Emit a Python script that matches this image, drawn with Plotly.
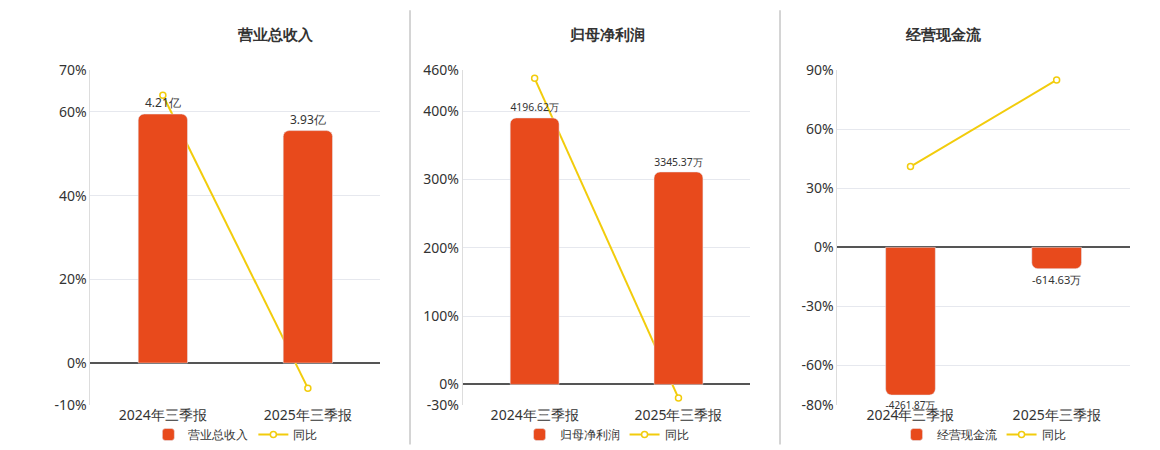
import plotly.graph_objects as go

periods = ["2024年三季报", "2025年三季报"]
titles = ["营业总收入", "归母净利润", "经营现金流"]
bar_vals = [[4.21, 3.93], [4196.62, 3345.37], [-4261.87, -614.63]]
bar_text = [["4.21亿", "3.93亿"], ["4196.62万", "3345.37万"], ["-4261.87万", "-614.63万"]]
yoy = [[64.0, -6.0], [448.0, -20.0], [41.0, 85.0]]
pct_ranges = [[-10, 70], [-30, 460], [-80, 90]]
pct_ticks = [[-10, 0, 20, 40, 60, 70], [-30, 0, 100, 200, 300, 400, 460], [-80, -60, -30, 0, 30, 60, 90]]
# bar value per percent unit (aligns bar zero with 0%)
bar_scale = [4.21 / 59.5, 4196.62 / 390, 4261.87 / 75]

BAR = "#E84A1C"
LINE = "#F2CC0C"
xdom = [[0.071, 0.321], [0.392, 0.640], [0.715, 0.967]]
ydom = [0.118, 0.862]

fig = go.Figure()
layout = dict(
    width=1160, height=450, margin=dict(l=0, r=0, t=0, b=0, autoexpand=False),
    plot_bgcolor="white", paper_bgcolor="white",
    font=dict(family="Noto Sans, DejaVu Sans", size=13, color="#333"),
    barmode="overlay",
)
shapes, annotations = [], []
for i in range(3):
    n = i * 2 + 1
    xa = "x" if i == 0 else f"x{i+1}"
    ypa = "y" if n == 1 else f"y{n}"
    yba = f"y{n+1}"
    lg = "legend" if i == 0 else f"legend{i+1}"
    fig.add_trace(go.Bar(
        x=periods, y=bar_vals[i], xaxis=xa, yaxis=yba, name=titles[i],
        marker=dict(color=BAR, cornerradius=6), width=0.34,
        text=bar_text[i], textposition="outside", cliponaxis=False,
        textfont=dict(size=12, color="#333"), legend=lg,
    ))
    fig.add_trace(go.Scatter(
        x=periods, y=yoy[i], xaxis=xa, yaxis=ypa, name="同比", mode="lines+markers",
        line=dict(color=LINE, width=2),
        marker=dict(symbol="circle", size=6, color="white", line=dict(color=LINE, width=1.5)),
        cliponaxis=False, legend=lg,
    ))
    lo, hi = pct_ranges[i]
    layout["xaxis" if i == 0 else f"xaxis{i+1}"] = dict(
        domain=xdom[i], anchor=ypa, showgrid=False, tickfont=dict(size=14),
        showline=False, ticks="", automargin=False,
    )
    layout["yaxis" if n == 1 else f"yaxis{n}"] = dict(
        domain=ydom, anchor=xa, range=[lo, hi], tickvals=pct_ticks[i],
        ticktext=[f"{v}%" for v in pct_ticks[i]], tickfont=dict(size=14),
        gridcolor="#E6E8EE", zeroline=True, zerolinecolor="#555", zerolinewidth=1.5,
        showline=True, linecolor="#DDD", automargin=False,
    )
    layout[f"yaxis{n+1}"] = dict(
        overlaying=ypa, anchor=xa, visible=False, domain=ydom,
        range=[lo * bar_scale[i], hi * bar_scale[i]],
    )
    layout[lg] = dict(
        orientation="h", x=sum(xdom[i]) / 2, xanchor="center", y=0.02, yanchor="bottom",
        font=dict(size=12), bgcolor="rgba(0,0,0,0)", itemwidth=30,
    )
    annotations.append(dict(
        text=f"<b>{titles[i]}</b>", x=sum(xdom[i]) / 2, y=0.969, xref="paper", yref="paper",
        showarrow=False, font=dict(size=15, color="#333"),
    ))
for xp in [402 / 1160, 772 / 1160]:
    shapes.append(dict(type="line", xref="paper", yref="paper", x0=xp, x1=xp,
                       y0=0.03, y1=0.995, line=dict(color="#AAA", width=1)))
layout["shapes"] = shapes
layout["annotations"] = annotations
fig.update_layout(**layout)
fig.write_html("out.html")
